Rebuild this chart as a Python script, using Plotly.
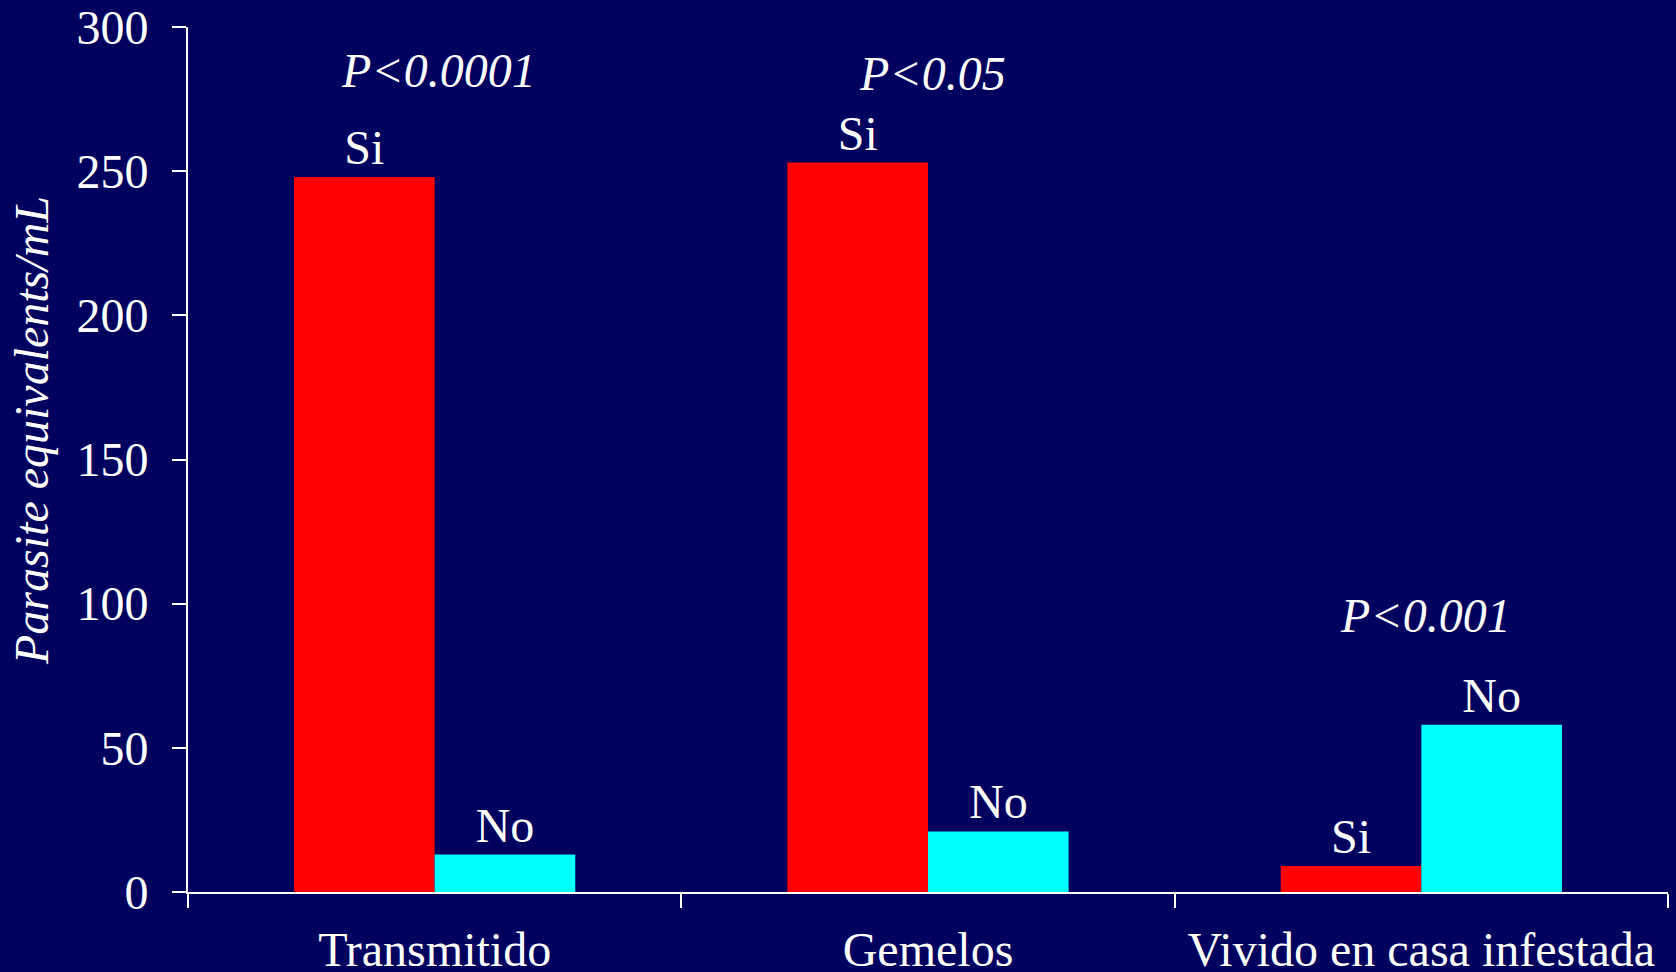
import plotly.graph_objects as go

categories = ["Transmitido", "Gemelos", "Vivido en casa infestada"]
si_values = [248, 253, 9]
no_values = [13, 21, 58]
series_names = ["Si", "No"]
p_labels = ["P<0.0001", "P<0.05", "P<0.001"]
p_label_y = [285, 284, 96]
y_ticks = [0, 50, 100, 150, 200, 250, 300]
y_title = "Parasite equivalents/mL"

BG = "#00005E"
FONT = "'Liberation Serif', 'Times New Roman', 'DejaVu Serif', serif"
FS = 48

fig = go.Figure()
fig.add_trace(go.Bar(
    x=categories, y=si_values, name=series_names[0],
    marker=dict(color="#FF0000", line=dict(width=0)),
    text=[series_names[0]] * len(categories), textposition="outside",
    textfont=dict(family=FONT, size=FS, color="white"), cliponaxis=False,
))
fig.add_trace(go.Bar(
    x=categories, y=no_values, name=series_names[1],
    marker=dict(color="#00FFFF", line=dict(width=0)),
    text=[series_names[1]] * len(categories), textposition="outside",
    textfont=dict(family=FONT, size=FS, color="white"), cliponaxis=False,
))

for c, lab, yv in zip(categories, p_labels, p_label_y):
    fig.add_annotation(x=c, y=yv, text=lab, showarrow=False, xref="x", yref="y",
                       yanchor="middle", xshift=4,
                       font=dict(family=FONT, size=FS, color="white", style="italic"))

# y-axis title (placed as rotated annotation to match vertical offset)
fig.add_annotation(x=-0.1054, y=0.533, xref="paper", yref="paper", text=y_title,
                   textangle=-90, showarrow=False, xanchor="center", yanchor="middle",
                   font=dict(family=FONT, size=FS, color="white", style="italic"))

fig.update_layout(
    width=1676, height=972, autosize=False,
    paper_bgcolor=BG, plot_bgcolor=BG,
    barmode="group", bargap=0.43, bargroupgap=0,
    showlegend=False,
    margin=dict(l=188, r=8, t=27, b=80, autoexpand=False),
    font=dict(family=FONT, size=FS, color="white"),
    uniformtext=dict(minsize=FS, mode="show"),
)
fig.update_xaxes(
    showline=True, linecolor="white", linewidth=2,
    ticks="outside", tickson="boundaries", ticklen=14, tickwidth=1.5, tickcolor="white",
    tickfont=dict(family=FONT, size=FS, color="white"),
    ticklabelstandoff=14, automargin=False,
    showgrid=False, zeroline=False,
)
fig.update_yaxes(
    range=[0, 300], tickvals=y_ticks,
    showline=True, linecolor="white", linewidth=2,
    ticks="outside", ticklen=14, tickwidth=1.5, tickcolor="white",
    tickfont=dict(family=FONT, size=FS, color="white"),
    ticklabelstandoff=14, automargin=False,
    showgrid=False, zeroline=False,
)

fig.write_html("out.html", config={"displayModeBar": False},
               post_script="document.body.style.margin='0';document.body.style.overflow='hidden';")
